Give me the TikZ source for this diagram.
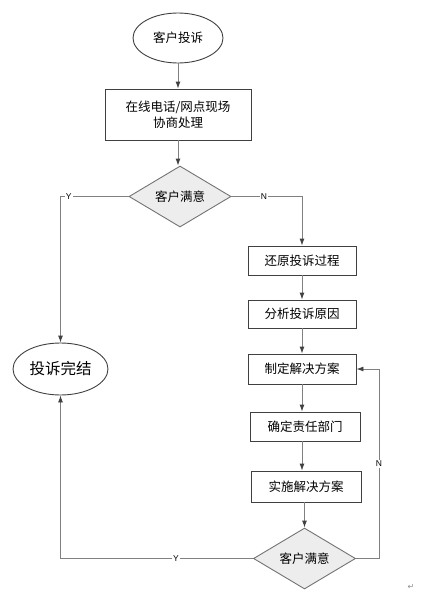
\documentclass[tikz,border=0pt]{standalone}
\usepackage{fontspec}
\newfontfamily\cjk{Noto Sans CJK SC}
\newfontfamily\latin{Liberation Sans}
\newfontfamily\symb{DejaVu Sans}
\usetikzlibrary{shapes.geometric,arrows.meta}

\begin{document}
\begin{tikzpicture}[x=1pt,y=-1pt]
    \tikzset{
        term/.style={draw=black!75, ellipse, line width=0.9pt, inner sep=0pt},
        stepbox/.style={draw=black!75, rectangle, line width=0.9pt, inner sep=0pt,
            minimum height=29pt, font=\cjk\fontsize{12.5}{16}\selectfont},
        check/.style={draw=black!55, diamond, fill=black!7, line width=0.9pt, inner sep=0pt,
            aspect=1.7, minimum width=102pt, minimum height=61pt, font=\cjk\fontsize{12.5}{16}\selectfont},
        arc/.style={-{Latex[length=7pt,width=5pt,color=black!75]}, draw=black!50, line width=0.9pt},
        yn/.style={font=\latin\fontsize{8.5}{9}\selectfont, fill=white, inner sep=1pt}
    }
    \useasboundingbox (0,0) rectangle (421,613);

    \draw node[term, minimum width=90pt, minimum height=50pt, font=\cjk\fontsize{12.5}{16}\selectfont] (start) at (178,38) {客户投诉};
    \draw node[stepbox, minimum width=146pt, minimum height=51pt, align=center] (deal) at (178,114.5) {在线电话/网点现场\\协商处理};
    \draw node[check] (sat1) at (180,196.5) {客户满意};
    \draw node[stepbox, minimum width=108pt] (restore) at (302,260.5) {还原投诉过程};
    \draw node[stepbox, minimum width=108pt, minimum height=28pt] (analyse) at (302,314) {分析投诉原因};
    \draw node[stepbox, minimum width=108pt, minimum height=30pt] (plan) at (302,369) {制定解决方案};
    \draw node[stepbox, minimum width=110pt] (assign) at (305,426.5) {确定责任部门};
    \draw node[stepbox, minimum width=110pt, minimum height=31pt] (carry) at (306,486.5) {实施解决方案};
    \draw node[check] (sat2) at (304.5,558.5) {客户满意};
    \draw node[term, minimum width=95pt, minimum height=52pt, font=\cjk\fontsize{15.5}{18}\selectfont] (finish) at (60.5,369) {投诉完结};
    \node[text=black!45, font=\symb\fontsize{8}{9}\selectfont] (ret) at (411,587) {↵};
    \coordinate (back) at (379,558.5);

    \draw[arc] (start) -- (deal);
    \draw[arc] (deal.south) -- (deal.south |- sat1.north);
    \draw[arc] (sat1.west) -| node[yn, pos=0.44] {Y} (finish.north);
    \draw[arc] (sat1.east) -| node[yn, pos=0.23] {N} (restore.north);
    \draw[arc] (restore) -- (analyse);
    \draw[arc] (analyse) -- (plan);
    \draw[arc] (plan.south) -- (plan.south |- assign.north);
    \draw[arc] (assign.south -| plan.south) -- (plan.south |- carry.north);
    \draw[arc] (carry.south -| sat2.north) -- (sat2.north);
    \draw[arc] (sat2.west) -| node[yn, pos=0.2] {Y} (finish.south);
    % back to the plan when not satisfied
    \draw[arc] (sat2.east) -- (back) |- node[yn, pos=0.25] {N} (plan.east);
\end{tikzpicture}
\end{document}
